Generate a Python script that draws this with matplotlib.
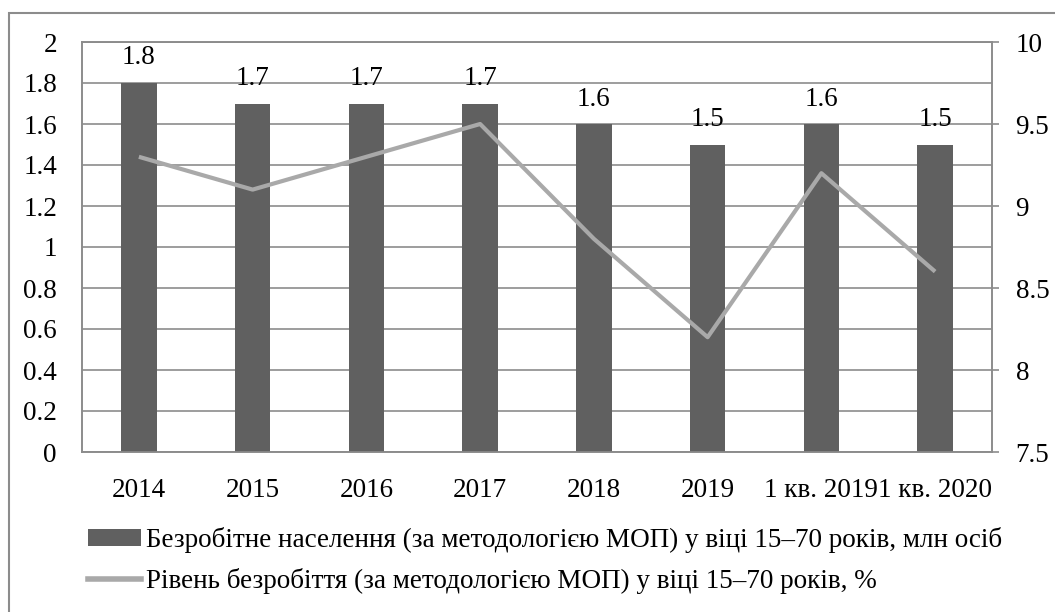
import matplotlib
matplotlib.use("Agg")
import matplotlib.pyplot as plt
from matplotlib.patches import Rectangle, Patch
from matplotlib.lines import Line2D
import numpy as np

categories = ["2014", "2015", "2016", "2017", "2018", "2019", "1 кв. 2019", "1 кв. 2020"]
unemployed_mln = [1.8, 1.7, 1.7, 1.7, 1.6, 1.5, 1.6, 1.5]
unemployment_rate = [9.3, 9.1, 9.3, 9.5, 8.8, 8.2, 9.2, 8.6]
left_ticks = [0, 0.2, 0.4, 0.6, 0.8, 1, 1.2, 1.4, 1.6, 1.8, 2]
right_ticks = [7.5, 8, 8.5, 9, 9.5, 10]
bar_label = "Безробітне населення (за методологією МОП) у віці 15–70 років, млн осіб"
line_label = "Рівень безробіття (за методологією МОП) у віці 15–70 років, %"

plt.rcParams['font.family'] = ['Liberation Serif', 'DejaVu Serif']
FS = 19.5
bar_color = "#606060"
line_color = "#A9A9A9"
grid_color = "#8C8C8C"

W, H = 1055, 612
fig = plt.figure(figsize=(W / 100, H / 100), dpi=100)
ax = fig.add_axes([82 / W, 1 - 452 / H, (992 - 82) / W, (452 - 42) / H])

x = np.arange(len(categories))
bars = ax.bar(x, unemployed_mln, width=0.31, color=bar_color, zorder=3)
ax.set_xlim(-0.5, len(categories) - 0.5)
ax.set_ylim(0, 2)
ax.set_yticks(left_ticks)
ax.set_yticklabels([f"{v:g}" for v in left_ticks])
ax.set_xticks(x)
ax.set_xticklabels(categories)
ax.grid(axis='y', color=grid_color, lw=1.2, zorder=0)
ax.tick_params(axis='y', length=0, pad=18, labelsize=FS)
ax.tick_params(axis='x', length=0, pad=19, labelsize=FS)
for s in ax.spines.values():
    s.set_color(grid_color)
    s.set_linewidth(1.2)

for xi, v in zip(x, unemployed_mln):
    ax.annotate(f"{v:g}", (xi, v), xytext=(0, 9), textcoords='offset points',
                ha='center', va='bottom', fontsize=FS, zorder=5)

ax2 = ax.twinx()
ax2.plot(x, unemployment_rate, color=line_color, lw=3, solid_capstyle='butt', zorder=4)
ax2.set_ylim(7.5, 10)
ax2.set_yticks(right_ticks)
ax2.set_yticklabels([f"{v:g}" for v in right_ticks])
ax2.tick_params(axis='y', length=5, width=1.2, color=grid_color, pad=12, labelsize=FS)
for s in ax2.spines.values():
    s.set_color(grid_color)
    s.set_linewidth(1.2)

handles = [Patch(facecolor=bar_color, edgecolor='none'),
           Line2D([0], [0], color=line_color, lw=4)]
fig.legend(handles, [bar_label, line_label], loc='upper left',
           bbox_to_anchor=(88 / W, 1 - 527 / H), frameon=False, fontsize=FS,
           handlelength=1.95, handleheight=0.55, handletextpad=0.2,
           labelspacing=0.55, borderaxespad=0, borderpad=0)

fig.add_artist(Rectangle((8.5 / W, -0.1), 1.2, (1 - 13 / H) + 0.1, transform=fig.transFigure,
                         fill=False, edgecolor="#8C8C8C", lw=1.5))

fig.savefig("out.png", dpi=100)
